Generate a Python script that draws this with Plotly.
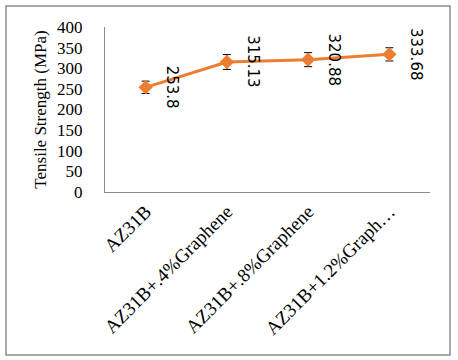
import plotly.graph_objects as go

# dati
samples = ["AZ31B", "AZ31B+.4%Graphene", "AZ31B+.8%Graphene", "AZ31B+1.2%Graph…"]
strength = [253.8, 315.13, 320.88, 333.68]
errors = [15, 18, 17, 16]
labels = ["253.8", "315.13", "320.88", "333.68"]

serif = "Liberation Serif, Times New Roman, serif"

fig = go.Figure()
fig.add_trace(go.Scatter(
    x=samples,
    y=strength,
    mode="lines+markers",
    line=dict(color="#ED7D31", width=3),
    marker=dict(symbol="diamond", size=11, color="#ED7D31"),
    error_y=dict(type="data", array=errors, color="black", thickness=1, width=4),
    showlegend=False,
))

# etichette dei valori ruotate
for s, v, t in zip(samples, strength, labels):
    fig.add_annotation(
        x=s, y=v, text=t, showarrow=False, textangle=90,
        xanchor="center", yanchor="middle", xshift=26,
        font=dict(family="DejaVu Sans", size=15, color="black"),
    )

# cornice esterna
fig.add_shape(type="rect", xref="paper", yref="paper",
              x0=-0.3046, x1=1.0615, y0=-0.988, y1=1.127,
              line=dict(color="#8c8c8c", width=1.5))

fig.update_layout(
    width=458, height=360,
    margin=dict(l=105, r=28, t=27, b=168, autoexpand=False),
    paper_bgcolor="white", plot_bgcolor="white",
    font=dict(family=serif, size=17, color="black"),
    xaxis=dict(
        type="category", range=[-0.5, 3.5], automargin=False,
        showline=True, linecolor="#8c8c8c", linewidth=1,
        showgrid=False, ticks="", tickangle=-45,
        tickfont=dict(family=serif, size=19),
    ),
    yaxis=dict(
        range=[0, 400], dtick=50, automargin=False,
        showline=True, linecolor="#8c8c8c", linewidth=1,
        showgrid=False, ticks="", zeroline=False, ticklabelstandoff=18,
        title=dict(text="Tensile Strength (MPa)", font=dict(family=serif, size=17), standoff=6),
        tickfont=dict(family=serif, size=17),
    ),
)

# tolgo il margine del body così la figura parte da (0,0)
fig.write_html("out.html", config={"displayModeBar": False},
               post_script="document.body.style.margin='0';")
